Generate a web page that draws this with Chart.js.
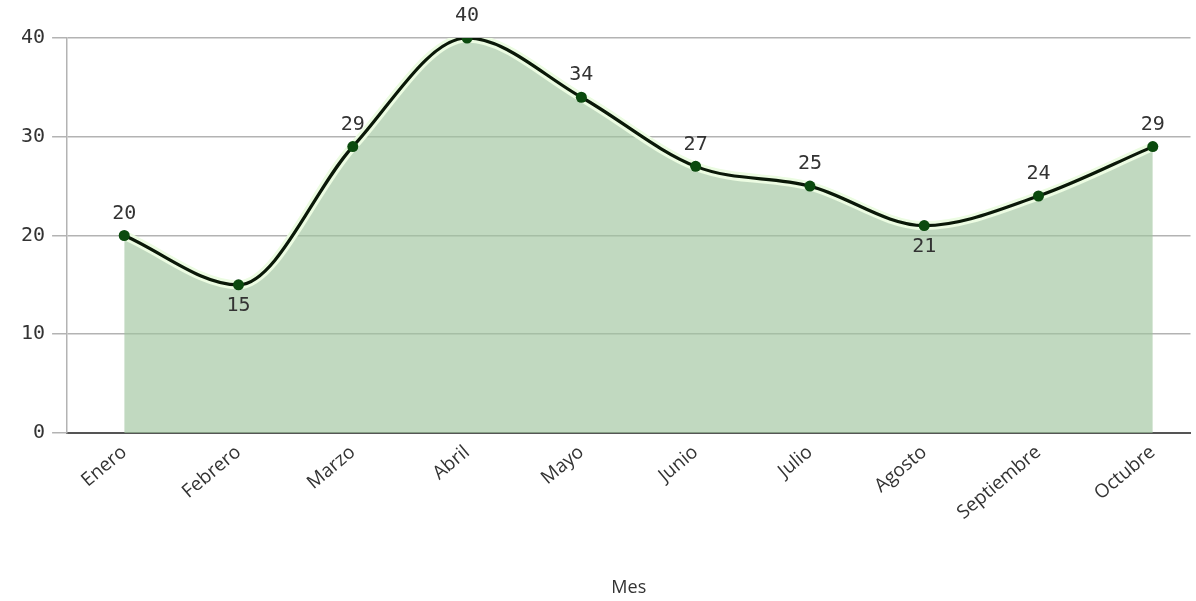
<!DOCTYPE html>
<html>
<head>
<meta charset="utf-8">
<script src="https://cdn.jsdelivr.net/npm/chart.js@4"></script>
<style>
  html, body { margin: 0; padding: 0; background: #fff; }
  #wrap { width: 1196px; height: 601px; }
</style>
</head>
<body>
<div id="wrap"><canvas id="chart"></canvas></div>
<script>
const months = ['Enero', 'Febrero', 'Marzo', 'Abril', 'Mayo', 'Junio', 'Julio', 'Agosto', 'Septiembre', 'Octubre'];
const values = [20, 15, 29, 40, 34, 27, 25, 21, 24, 29];
const yTicks = [0, 10, 20, 30, 40];
const labelBelow = ['Febrero', 'Agosto'];

const points = values.map((v, i) => ({ x: i, y: v }));
const monoFont = 'DejaVu Sans Mono';

// value labels above / below each point
const valueLabels = {
  id: 'valueLabels',
  afterDatasetsDraw(chart) {
    const ctx = chart.ctx;
    const meta = chart.getDatasetMeta(1);
    ctx.save();
    ctx.font = '20px "' + monoFont + '"';
    ctx.fillStyle = '#333';
    ctx.textAlign = 'center';
    ctx.textBaseline = 'middle';
    meta.data.forEach((pt, i) => {
      const below = labelBelow.includes(months[i]);
      ctx.fillText(String(values[i]), pt.x, pt.y + (below ? 21 : -22));
    });
    ctx.restore();
  }
};

new Chart(document.getElementById('chart'), {
  type: 'line',
  data: {
    datasets: [{
      // fill + light halo
      data: points,
      fill: 'origin',
      backgroundColor: 'rgba(160,196,158,0.65)',
      borderColor: 'rgba(236,252,226,1)',
      borderWidth: 9,
      pointRadius: 0,
      cubicInterpolationMode: 'monotone',
      order: 2
    }, {
      data: points,
      fill: false,
      borderColor: '#0a1808',
      borderWidth: 3.2,
      pointRadius: 5.5,
      pointBackgroundColor: '#0b4a0e',
      pointBorderColor: '#0b4a0e',
      pointBorderWidth: 0,
      cubicInterpolationMode: 'monotone',
      order: 1
    }]
  },
  options: {
    responsive: true,
    maintainAspectRatio: false,
    animation: false,
    layout: { padding: { top: 38, right: 0, left: 14, bottom: 0 } },
    plugins: { legend: { display: false }, tooltip: { enabled: false } },
    scales: {
      x: {
        type: 'linear',
        min: -0.5,
        max: 9.33,
        afterBuildTicks: (scale) => {
          scale.ticks = months.map((m, i) => ({ value: i }));
        },
        ticks: {
          includeBounds: false,
          autoSkip: false,
          minRotation: 40,
          maxRotation: 40,
          color: '#333',
          font: { family: 'Open Sans', size: 19 },
          padding: 0,
          callback: (v) => months[v] || ''
        },
        grid: { display: false },
        border: { color: '#555', width: 2 },
        title: {
          display: true,
          text: 'Mes',
          color: '#333',
          font: { family: 'Open Sans', size: 18 },
          padding: { top: 53, bottom: 2 }
        }
      },
      y: {
        min: 0,
        max: 40,
        afterBuildTicks: (scale) => {
          scale.ticks = yTicks.map(v => ({ value: v }));
        },
        ticks: {
          color: '#333',
          font: { family: monoFont, size: 20 },
          padding: 7
        },
        grid: { color: '#b3b3b3', lineWidth: 1.5, tickLength: 15 },
        border: { color: '#b3b3b3', width: 1.5 }
      }
    }
  },
  plugins: [valueLabels]
});
</script>
</body>
</html>
